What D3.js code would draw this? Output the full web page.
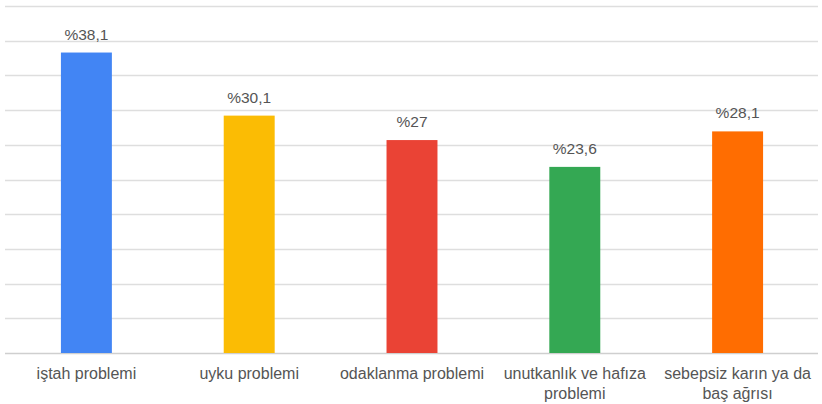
<!DOCTYPE html>
<html><head><meta charset="utf-8">
<script src="https://cdn.jsdelivr.net/npm/d3@7"></script>
<style>body{margin:0;background:#fff}svg{display:block}text{font-family:"Liberation Sans",Arial,sans-serif}</style>
</head><body><svg id="c" width="822" height="404"></svg>
<script>
const categories = [["iştah problemi"],["uyku problemi"],["odaklanma problemi"],["unutkanlık ve hafıza","problemi"],["sebepsiz karın ya da","baş ağrısı"]];
const values = [38.1, 30.1, 27, 23.6, 28.1];
const valueLabels = ["%38,1","%30,1","%27","%23,6","%28,1"];
const colors = ["#4285f4","#fbbc04","#ea4335","#34a853","#ff6d01"];
const gridTicks = d3.range(0, 44.01, 4.4);

const svg = d3.select("#c");
const x = d3.scaleBand().domain(d3.range(values.length)).range([5, 819]).padding(0);
const y = d3.scaleLinear().domain([0, 44]).range([353, 6]);
const bw = x.bandwidth() * 0.313;

svg.append("g").selectAll("line").data(gridTicks).join("line")
  .attr("x1", 5).attr("x2", 818)
  .attr("y1", d => Math.round(y(d)) + 0.5).attr("y2", d => Math.round(y(d)) + 0.5)
  .attr("stroke", d => d === 0 ? "#cfcfcf" : "#dedede").attr("stroke-width", 1.6);

svg.append("g").selectAll("rect").data(values).join("rect")
  .attr("x", (d, i) => x(i) + x.bandwidth() / 2 - bw / 2)
  .attr("width", bw)
  .attr("y", d => y(d))
  .attr("height", d => y(0) - y(d))
  .attr("fill", (d, i) => colors[i]);

svg.append("g").selectAll("text").data(values).join("text")
  .attr("x", (d, i) => x(i) + x.bandwidth() / 2)
  .attr("y", d => y(d) - 13)
  .attr("text-anchor", "middle")
  .attr("font-size", 15.5).attr("fill", "#555")
  .text((d, i) => valueLabels[i]);

const lab = svg.append("g").selectAll("text").data(categories).join("text")
  .attr("text-anchor", "middle")
  .attr("font-size", 16).attr("fill", "#555");
lab.each(function(d, i) {
  d3.select(this).selectAll("tspan").data(d).join("tspan")
    .attr("x", x(i) + x.bandwidth() / 2)
    .attr("y", (t, j) => 379 + j * 20)
    .text(t => t);
});
</script></body></html>
